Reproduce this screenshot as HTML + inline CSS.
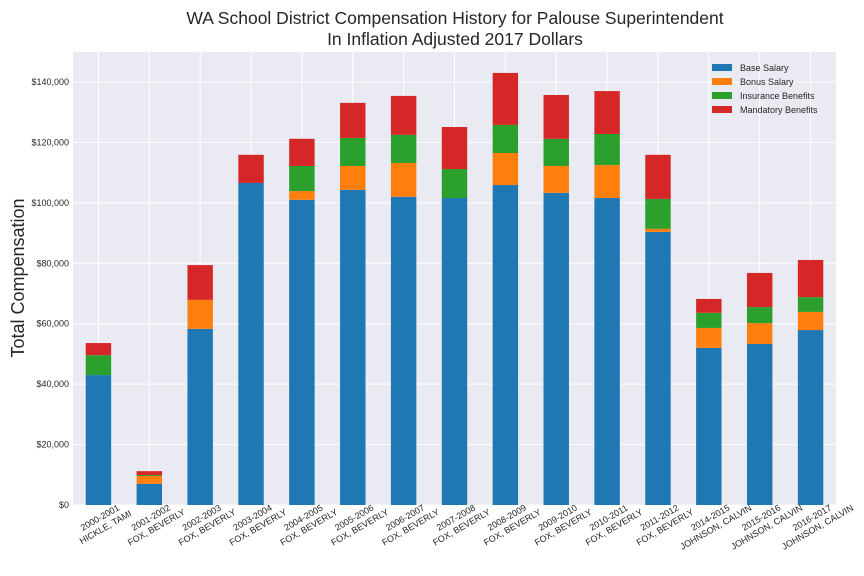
<!DOCTYPE html>
<html><head><meta charset="utf-8"><style>
body{margin:0;background:#fff;}
svg{display:block;font-family:"Liberation Sans",sans-serif;}
</style></head><body>
<svg id="chart" width="864" height="576"></svg>
<script>
const categories = ["2000-2001|HICKLE, TAMI","2001-2002|FOX, BEVERLY","2002-2003|FOX, BEVERLY","2003-2004|FOX, BEVERLY","2004-2005|FOX, BEVERLY","2005-2006|FOX, BEVERLY","2006-2007|FOX, BEVERLY","2007-2008|FOX, BEVERLY","2008-2009|FOX, BEVERLY","2009-2010|FOX, BEVERLY","2010-2011|FOX, BEVERLY","2011-2012|FOX, BEVERLY","2014-2015|JOHNSON, CALVIN","2015-2016|JOHNSON, CALVIN","2016-2017|JOHNSON, CALVIN"];
const baseSalary = [43000,7000,58300,106600,101000,104300,102000,101600,105900,103300,101600,90400,52000,53300,57900];
const bonusSalary = [0,2600,9600,0,2900,7900,11200,0,10600,8900,10900,1000,6600,6900,6000];
const insuranceBenefits = [6600,300,0,0,8300,9300,9300,9600,9300,9000,10300,9900,5000,5300,4900];
const mandatoryBenefits = [4000,1300,11500,9300,9000,11600,12900,13900,17200,14500,14200,14600,4600,11300,12300];
const yTicks = [0,20000,40000,60000,80000,100000,120000,140000];
const seriesNames = ["Base Salary","Bonus Salary","Insurance Benefits","Mandatory Benefits"];
const seriesColors = ["#1f77b4","#ff7f0e","#2ca02c","#d62728"];

const NS="http://www.w3.org/2000/svg";
const svg=document.getElementById('chart');
const L=73,R=836,T=52,B=505;
function y(v){return B-v*(423/140000);}
const step=(R-L)/categories.length;
function xc(i){return L+step*(i+0.5);}
function el(tag,attrs,parent){const e=document.createElementNS(NS,tag);for(const k in attrs)e.setAttribute(k,attrs[k]);(parent||svg).appendChild(e);return e;}

const bg=el('rect',{x:L,y:T,width:R-L,height:B-T,fill:'#eaeaf2'});


yTicks.forEach(t=>{
  const g=el('line',{x1:L,x2:R,y1:y(t),y2:y(t),stroke:'#fff','stroke-width':1});
  
  
  const lb=el('text',{x:L-4,y:y(t)+3,'text-anchor':'end','font-size':9,fill:'#262626'});
  lb.textContent=t===0?'$0':'$'+t.toLocaleString('en-US');
  
  
});
categories.forEach((c,i)=>{
  const g=el('line',{x1:xc(i),x2:xc(i),y1:T,y2:B,stroke:'#fff','stroke-width':1});
  
  
});
const series=[baseSalary,bonusSalary,insuranceBenefits,mandatoryBenefits];
const bw=step*0.5;
categories.forEach((c,i)=>{
  let acc=0;
  series.forEach((s,k)=>{
    const v=s[i];
    if(v>0){
      const r=el('rect',{x:xc(i)-bw/2,y:y(acc+v),width:bw,height:y(acc)-y(acc+v),fill:seriesColors[k]});
      
      
    }
    acc+=v;
  });
  const parts=c.split('|');
  const cx=xc(i)+4, cy=522;
  const t=el('text',{transform:`translate(${cx},${cy}) rotate(-30)`,'text-anchor':'middle','font-size':9,fill:'#262626'});
  
  
  const a=el('tspan',{x:0,y:-2},t);a.textContent=parts[0];
  const b=el('tspan',{x:0,y:9},t);b.textContent=parts[1];
});
const t1=el('text',{x:455,y:24,'text-anchor':'middle','font-size':17.5,fill:'#262626'});
t1.textContent='WA School District Compensation History for Palouse Superintendent';


const t2=el('text',{x:455,y:45,'text-anchor':'middle','font-size':17.5,fill:'#262626'});
t2.textContent='In Inflation Adjusted 2017 Dollars';


const yl=el('text',{transform:'translate(24,278) rotate(-90)','text-anchor':'middle','font-size':18,fill:'#262626'});
yl.textContent='Total Compensation';


seriesNames.forEach((n,k)=>{
  const yy=64+k*14;
  const r=el('rect',{x:712,y:yy,width:20,height:7,fill:seriesColors[k]});
  
  
  const tx=el('text',{x:740,y:yy+7,'font-size':9,fill:'#262626'});
  tx.textContent=n;
  
  
});
</script>
</body></html>
